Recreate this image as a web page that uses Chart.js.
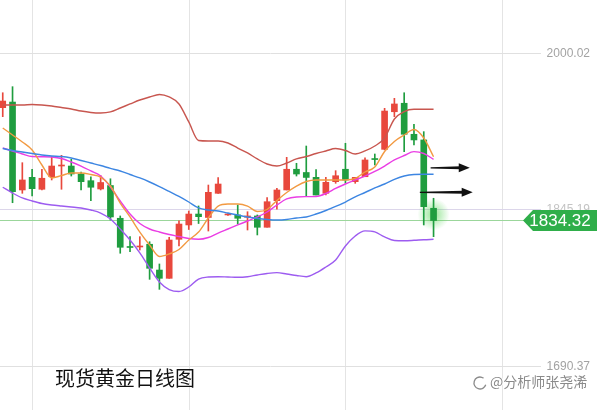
<!DOCTYPE html>
<html>
<head>
<meta charset="utf-8">
<script src="https://cdn.jsdelivr.net/npm/chart.js@4.4.0/dist/chart.umd.min.js"></script>
<style>
  html, body { margin: 0; padding: 0; background: #fff; }
  #wrap { width: 600px; height: 410px; position: relative; }
</style>
</head>
<body>
<div id="wrap"><canvas id="chartCanvas"></canvas></div>
<script>
// daily candles, oldest -> newest
const openP  = [1945.9,1951.5,1864.5,1877.0,1865.2,1877.6,1888.2,1888.2,1880.3,1873.7,1865.5,1868.9,1836.5,1808.3,1808.1,1810.8,1785.3,1777.1,1815.7,1829.9,1840.7,1837.3,1861.2,1839.8,1839.8,1837.5,1838.8,1827.6,1853.9,1864.5,1885.0,1881.8,1877.0,1861.2,1872.7,1885.0,1872.7,1877.6,1895.6,1904.7,1941.9,1950.3,1919.6,1914.0,1846.4];
const highP  = [1960.7,1966.7,1891.5,1885.0,1885.0,1897.4,1898.8,1894.9,1882.3,1877.6,1878.8,1875.6,1838.8,1818.3,1818.3,1813.3,1791.3,1817.7,1834.1,1843.7,1848.7,1869.4,1876.7,1841.2,1849.6,1843.0,1839.8,1856.9,1866.2,1896.8,1890.9,1908.0,1884.6,1877.0,1883.6,1910.7,1877.0,1896.4,1900.1,1945.3,1955.2,1960.7,1929.5,1922.2,1856.3];
const lowP   = [1937.0,1851.9,1861.2,1858.5,1864.5,1874.4,1865.2,1878.3,1864.5,1853.9,1864.5,1834.8,1801.9,1803.4,1805.1,1776.1,1766.2,1777.1,1809.1,1825.4,1831.3,1823.9,1861.2,1839.3,1830.8,1824.9,1820.0,1827.6,1845.4,1864.5,1878.3,1857.9,1859.5,1859.5,1871.1,1871.1,1871.1,1877.6,1889.2,1904.1,1937.0,1902.4,1909.0,1829.9,1818.3];
const closeP = [1952.5,1862.8,1874.4,1865.8,1876.1,1888.2,1889.2,1880.3,1872.7,1867.2,1871.9,1837.8,1807.8,1807.6,1808.8,1787.0,1777.1,1815.0,1830.8,1840.7,1838.1,1862.2,1870.4,1840.7,1836.5,1838.8,1827.6,1852.9,1864.5,1885.0,1880.3,1876.9,1859.5,1872.1,1878.6,1874.4,1877.0,1894.2,1894.6,1942.6,1949.6,1919.6,1914.0,1848.0,1834.32];

// bollinger bands and moving averages
const bollUpper = [1948.6,1948.6,1948.6,1949.1,1948.6,1947.6,1946.1,1944.6,1942.6,1941.2,1940.7,1941.7,1945.6,1949.6,1953.5,1956.5,1959.0,1956.5,1949.6,1931.8,1913.5,1913.0,1913.0,1911.0,1906.0,1901.1,1895.2,1890.2,1888.2,1891.2,1895.2,1897.6,1900.6,1903.1,1905.5,1903.6,1900.1,1903.1,1908.0,1915.9,1934.7,1942.1,1944.3,1944.3,1944.3];
const bollMid   = [1905.5,1903.5,1902.1,1900.6,1899.1,1898.1,1897.6,1896.1,1893.7,1891.2,1888.7,1885.8,1883.3,1879.8,1876.4,1872.4,1867.9,1863.0,1858.1,1852.6,1846.7,1844.7,1843.7,1841.7,1839.7,1837.8,1836.3,1835.3,1834.8,1835.3,1836.8,1837.8,1840.7,1844.2,1848.2,1852.6,1857.6,1862.0,1866.5,1870.4,1874.9,1878.3,1879.8,1880.0,1880.0];
const bollLower = [1867.2,1861.5,1856.6,1853.6,1851.1,1849.6,1848.6,1847.7,1846.7,1844.7,1841.7,1835.8,1825.9,1815.0,1802.2,1787.3,1773.5,1766.0,1764.1,1768.5,1776.4,1778.4,1778.7,1778.4,1778.1,1778.7,1780.4,1781.9,1782.7,1781.4,1779.9,1778.7,1782.4,1788.3,1795.2,1809.1,1819.0,1824.0,1823.0,1818.0,1814.5,1814.3,1814.7,1815.3,1815.7];
const ma5  = [1925.8,1918.9,1912.0,1904.1,1889.2,1876.4,1878.8,1881.3,1881.3,1879.8,1877.3,1868.4,1851.6,1837.8,1822.9,1810.1,1798.7,1801.2,1805.6,1815.0,1822.9,1836.8,1848.6,1850.6,1850.6,1848.6,1843.2,1845.2,1854.1,1862.0,1868.4,1872.9,1874.4,1874.4,1874.4,1874.4,1875.9,1882.3,1887.2,1902.6,1912.5,1918.9,1924.3,1915.9,1897.4];
const ma10 = [1906.0,1903.1,1900.1,1897.6,1897.4,1897.1,1895.6,1892.2,1888.2,1883.3,1878.3,1867.5,1853.6,1840.7,1831.3,1825.9,1822.9,1820.5,1818.5,1816.5,1815.7,1817.5,1821.9,1825.9,1829.9,1833.8,1837.8,1842.7,1849.6,1855.6,1857.6,1857.9,1858.1,1861.0,1866.0,1870.4,1874.4,1878.3,1882.8,1888.2,1894.2,1898.6,1902.4,1900.6,1894.8];

// price labels on the right, last price tag
const priceTicks = [2000.02, 1845.19, 1690.37];
const lastPrice = 1834.32;
const gridDays = [3, 19, 35, 51];

// the two hand-drawn arrows: [fromDay, toDay, price]
const arrows = [[43.7, 47.7, 1886.5], [42.6, 48.0, 1862.3]];

const UP = '#e8483d';
const DOWN = '#1f9d3f';

const dayIndex = openP.map((_, i) => i);
const isUp = dayIndex.map(i => closeP[i] >= openP[i]);
const candleColors = isUp.map(u => (u ? UP : DOWN));

function lineSet(values, color) {
  return {
    type: 'line',
    data: values.map((v, i) => ({ x: i, y: v })),
    borderColor: color,
    borderWidth: 1.4,
    pointRadius: 0,
    cubicInterpolationMode: 'monotone',
    order: 0
  };
}

const overlay = {
  id: 'overlay',
  beforeDatasetsDraw(chart) {
    const { ctx, scales: { x, y } } = chart;
    ctx.save();
    ctx.lineWidth = 1;
    ctx.strokeStyle = '#e4e4e4';
    gridDays.forEach(d => {
      const px = Math.round(x.getPixelForValue(d)) + 0.5;
      ctx.beginPath(); ctx.moveTo(px, 0); ctx.lineTo(px, 410); ctx.stroke();
    });
    priceTicks.forEach((v, k) => {
      const py = Math.round(y.getPixelForValue(v)) + 0.5;
      ctx.strokeStyle = k === 1 ? '#dcd6ea' : '#e0e0e0';
      ctx.beginPath(); ctx.moveTo(0, py); ctx.lineTo(541, py); ctx.stroke();
    });
    const ly = Math.round(y.getPixelForValue(lastPrice)) + 0.5;
    ctx.strokeStyle = '#9bd69b';
    ctx.beginPath(); ctx.moveTo(0, ly); ctx.lineTo(525, ly); ctx.stroke();

    // glow behind the latest candle
    const last = dayIndex.length - 1;
    const gx = x.getPixelForValue(last);
    const gy = y.getPixelForValue((openP[last] + closeP[last]) / 2);
    const g = ctx.createRadialGradient(gx, gy, 1, gx, gy, 16);
    g.addColorStop(0, 'rgba(70,210,70,0.55)');
    g.addColorStop(1, 'rgba(70,210,70,0)');
    ctx.fillStyle = g;
    ctx.fillRect(gx - 18, gy - 18, 36, 36);
    ctx.restore();
  },
  afterDatasetsDraw(chart) {
    const { ctx, scales: { x, y } } = chart;
    ctx.save();
    // arrows
    ctx.fillStyle = '#111';
    arrows.forEach(([d0, d1, p]) => {
      const x0 = x.getPixelForValue(d0), x1 = x.getPixelForValue(d1), py = y.getPixelForValue(p);
      ctx.beginPath();
      ctx.moveTo(x0, py - 0.5);
      ctx.lineTo(x1 - 9, py - 1.5);
      ctx.lineTo(x1 - 9, py + 1.5);
      ctx.lineTo(x0, py + 0.8);
      ctx.closePath();
      ctx.fill();
      ctx.beginPath();
      ctx.moveTo(x1, py);
      ctx.lineTo(x1 - 11, py - 4.5);
      ctx.lineTo(x1 - 11, py + 4.5);
      ctx.closePath();
      ctx.fill();
    });

    // price labels
    ctx.font = '12px "Liberation Sans", Arial, sans-serif';
    ctx.textAlign = 'right';
    ctx.textBaseline = 'middle';
    priceTicks.forEach((v, k) => {
      ctx.fillStyle = k === 1 ? '#c4c4c4' : '#a3a3a3';
      ctx.fillText(v.toFixed(2), 590, y.getPixelForValue(v) + 0.5);
    });

    // last price tag
    const ty = y.getPixelForValue(lastPrice);
    ctx.fillStyle = '#2fae4a';
    ctx.beginPath();
    ctx.moveTo(523, ty);
    ctx.lineTo(533, ty - 10.5);
    ctx.lineTo(597, ty - 10.5);
    ctx.lineTo(597, ty + 10.5);
    ctx.lineTo(533, ty + 10.5);
    ctx.closePath();
    ctx.fill();
    ctx.fillStyle = '#fff';
    ctx.textAlign = 'center';
    ctx.font = '17px "Liberation Sans Narrow", "Liberation Sans", Arial, sans-serif';
    ctx.fillText(lastPrice.toFixed(2), 560, ty + 1);

    // title and watermark
    ctx.textAlign = 'left';
    ctx.fillStyle = '#111';
    ctx.font = '20px "Noto Sans CJK SC", sans-serif';
    ctx.fillText('现货黄金日线图', 55, 378);
    ctx.font = '14px "Noto Sans CJK SC", sans-serif';
    ctx.lineWidth = 2;
    ctx.strokeStyle = 'rgba(255,255,255,0.9)';
    ctx.strokeText('@分析师张尧浠', 490, 382);
    ctx.fillStyle = '#8a8a8a';
    ctx.fillText('@分析师张尧浠', 490, 382);
    ctx.strokeStyle = '#8a8a8a';
    ctx.lineWidth = 1.3;
    ctx.beginPath();
    ctx.arc(480, 383, 6, 0.3, Math.PI * 1.7);
    ctx.stroke();
    ctx.restore();
  }
};

const ctx = document.getElementById('chartCanvas').getContext('2d');
new Chart(ctx, {
  type: 'bar',
  data: {
    datasets: [
      lineSet(bollUpper, '#c8564f'),
      lineSet(bollMid, '#3d86e2'),
      lineSet(bollLower, '#9d5cf0'),
      lineSet(ma5, '#f29a42'),
      lineSet(ma10, '#ea3de4'),
      {
        label: 'body',
        data: dayIndex.map(i => ({ x: i, y: [openP[i], closeP[i]] })),
        backgroundColor: candleColors,
        barThickness: 6,
        minBarLength: 1,
        grouped: false,
        order: 1
      },
      {
        label: 'wick',
        data: dayIndex.map(i => ({ x: i, y: [lowP[i], highP[i]] })),
        backgroundColor: candleColors,
        barThickness: 1,
        grouped: false,
        order: 2
      }
    ]
  },
  options: {
    responsive: true,
    maintainAspectRatio: false,
    animation: false,
    layout: { padding: 0 },
    plugins: { legend: { display: false }, tooltip: { enabled: false } },
    scales: {
      x: { type: 'linear', offset: false, min: -0.28, max: 61.0, display: false },
      y: { min: 1646.83, max: 2052.45, display: false }
    }
  },
  plugins: [overlay]
});
</script>
</body>
</html>
